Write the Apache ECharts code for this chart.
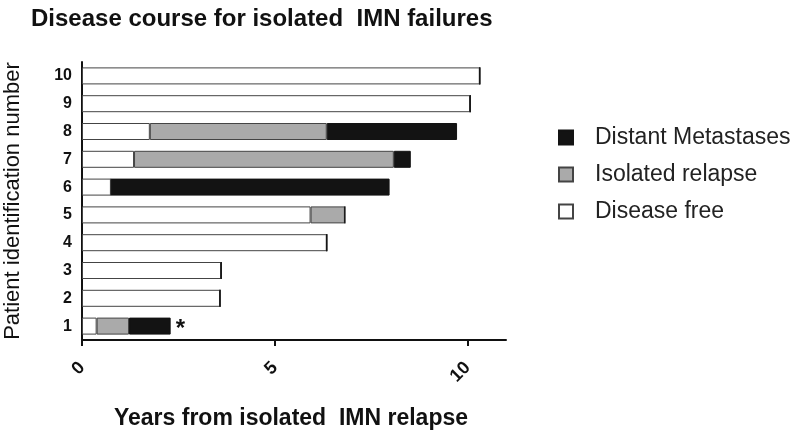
<!DOCTYPE html>
<html>
<head>
<meta charset="utf-8">
<script src="https://cdn.jsdelivr.net/npm/echarts@6/dist/echarts.min.js"></script>
<style>
  html, body { margin: 0; padding: 0; background: #fff; }
  #chart { width: 791px; height: 431px; }
</style>
</head>
<body>
<div id="chart"></div>
<script>
// patient 1..10, years from isolated IMN relapse, stacked per phase
const patients = ['1', '2', '3', '4', '5', '6', '7', '8', '9', '10']
const diseaseFree = [0.38, 3.58, 3.61, 6.35, 5.93, 0.75, 1.35, 1.76, 10.07, 10.32]
const isolatedRelapse = [0.84, 0, 0, 0, 0.89, 0, 6.74, 4.59, 0, 0]
const distantMets = [1.08, 0, 0, 0, 0, 7.23, 0.44, 3.38, 0, 0]
const xTicks = [0, 5, 10]

const chart = echarts.init(document.getElementById('chart'))

const barBase = {
  type: 'bar', stack: 'course', barWidth: 17,
}

chart.setOption({
  animation: false,
  textStyle: { fontFamily: 'Liberation Sans, Arial, sans-serif' },
  title: {
    text: 'Disease course for isolated  IMN failures',
    left: 26, top: 2,
    textStyle: { fontSize: 24, fontWeight: 'bold', color: '#111' },
  },
  legend: {
    orient: 'vertical', left: 553, top: 121,
    icon: 'rect',
    itemWidth: 14, itemHeight: 14, itemGap: 14,
    data: ['Distant Metastases', 'Isolated relapse', 'Disease free'],
    textStyle: { fontSize: 23, color: '#222', padding: [0, 0, 0, 17] },
  },
  grid: { left: 82, right: 285, top: 62, bottom: 91, outerBoundsMode: 'none' },
  xAxis: {
    type: 'value', min: 0, max: 11, interval: 5,
    name: 'Years from isolated  IMN relapse',
    nameLocation: 'middle', nameGap: 67,
    nameTextStyle: { fontSize: 23, fontWeight: 'bold', color: '#111', padding: [0, 6, 0, 0] },
    axisLine: { show: true, lineStyle: { color: '#111', width: 2 } },
    axisTick: { show: true, length: 6, lineStyle: { color: '#111', width: 2 }, customValues: xTicks },
    axisLabel: { rotate: 45, fontSize: 18, fontWeight: 'bold', color: '#111', margin: 25, customValues: xTicks },
    splitLine: { show: false },
  },
  yAxis: {
    type: 'category', data: patients,
    name: 'Patient identification number',
    nameLocation: 'middle', nameGap: 58,
    nameTextStyle: { fontSize: 22, color: '#111' },
    axisLine: { lineStyle: { color: '#111', width: 2 } },
    axisTick: { alignWithLabel: true, length: 6, lineStyle: { color: '#111', width: 2 } },
    axisLabel: { fontSize: 16, fontWeight: 'bold', color: '#111', margin: 10 },
  },
  series: [
    {
      ...barBase, name: 'Disease free', data: diseaseFree,
      itemStyle: { color: '#ffffff', borderColor: '#444', borderWidth: 1 },
    },
    {
      ...barBase, name: 'Isolated relapse', data: isolatedRelapse,
      itemStyle: { color: '#aaaaaa', borderColor: '#444', borderWidth: 1 },
    },
    {
      ...barBase, name: 'Distant Metastases',
      data: distantMets.map((v, i) => i === 0
        ? { value: v, label: { show: true, position: 'right', formatter: '*', fontSize: 24, fontWeight: 'bold', color: '#111', distance: 5, offset: [0, 3] } }
        : v),
      itemStyle: { color: '#131313', borderColor: '#131313', borderWidth: 1 },
    },
  ],
})
</script>
</body>
</html>
